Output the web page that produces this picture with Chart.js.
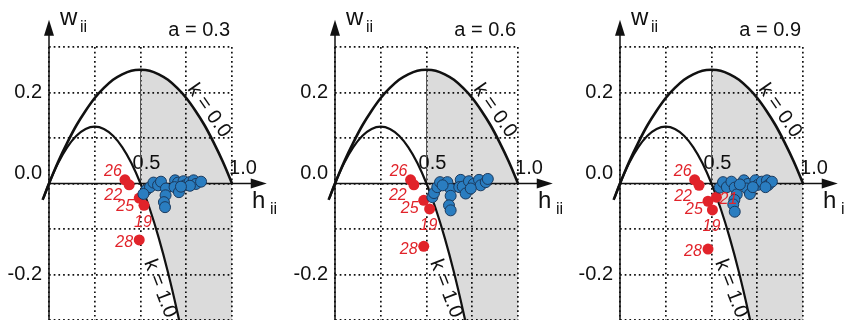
<!DOCTYPE html>
<html>
<head>
<meta charset="utf-8">
<script src="https://cdn.jsdelivr.net/npm/chart.js@4.4.1/dist/chart.umd.min.js"></script>
<style>
  body { margin: 0; background: #fff; }
  #wrap { position: relative; width: 845px; height: 320px; overflow: hidden; }
  .panel { position: absolute; top: 0; height: 320px; overflow: hidden; }
</style>
</head>
<body>
<div id="wrap">
  <div class="panel" style="left:0;width:286px"><canvas id="c0" width="286" height="345"></canvas></div>
  <div class="panel" style="left:286px;width:285px"><canvas id="c1" width="286" height="345"></canvas></div>
  <div class="panel" style="left:571px;width:274px"><canvas id="c2" width="286" height="345"></canvas></div>
</div>
<script>
// boundary curves (same in every panel)
const k0H = [-0.035, 0, 0.05, 0.1, 0.15, 0.2, 0.25, 0.3, 0.35, 0.4, 0.45, 0.5, 0.55, 0.6, 0.65, 0.7, 0.75, 0.8, 0.85, 0.9, 0.95, 1.0, 1.045];
const k0W = [-0.036, 0, 0.048, 0.09, 0.128, 0.16, 0.188, 0.21, 0.228, 0.24, 0.248, 0.25, 0.248, 0.24, 0.228, 0.21, 0.188, 0.16, 0.128, 0.09, 0.048, 0, -0.047];
const k1H = [-0.03, 0, 0.05, 0.1, 0.15, 0.2, 0.25, 0.3, 0.35, 0.4, 0.45, 0.5, 0.55, 0.6, 0.65, 0.7, 0.72];
const k1W = [-0.032, 0, 0.045, 0.08, 0.105, 0.12, 0.125, 0.12, 0.105, 0.08, 0.045, 0, -0.055, -0.12, -0.195, -0.28, -0.317];
const k1AtBottom = 0.713;

const titles = ['a = 0.3', 'a = 0.6', 'a = 0.9'];

// panel 1
const blue1H = [0.530, 0.552, 0.571, 0.596, 0.612, 0.516, 0.639, 0.637, 0.628, 0.634, 0.689, 0.705, 0.686, 0.710, 0.735, 0.743, 0.768, 0.790, 0.803, 0.831, 0.770, 0.721];
const blue1W = [-0.015, -0.008, 0.002, -0.004, 0.004, -0.023, -0.011, -0.026, -0.041, -0.052, 0.007, 0.002, -0.008, -0.019, 0.005, -0.004, 0.003, 0.007, -0.001, 0.004, -0.005, -0.007];
const red1Labels = ['26', '22', '25', '19', '28'];
const red1H = [0.415, 0.438, 0.493, 0.519, 0.493];
const red1W = [0.008, -0.003, -0.032, -0.048, -0.124];

// panel 2
const blue2H = [0.532, 0.541, 0.559, 0.574, 0.614, 0.632, 0.632, 0.623, 0.632, 0.687, 0.679, 0.698, 0.714, 0.732, 0.758, 0.787, 0.796, 0.824, 0.835, 0.742, 0.588];
const blue2W = [-0.030, -0.021, -0.008, 0.003, 0.003, -0.012, -0.027, -0.048, -0.059, 0.008, -0.008, -0.007, -0.022, 0.005, -0.001, 0.008, -0.004, 0.003, 0.010, -0.011, -0.004];
const red2Labels = ['26', '22', '25', '19', '28'];
const red2H = [0.413, 0.431, 0.485, 0.517, 0.485];
const red2W = [0.008, -0.003, -0.037, -0.056, -0.138];

// panel 3
const blue3H = [0.545, 0.563, 0.584, 0.609, 0.627, 0.638, 0.625, 0.619, 0.627, 0.677, 0.699, 0.693, 0.710, 0.740, 0.753, 0.775, 0.803, 0.811, 0.830, 0.795, 0.726, 0.655];
const blue3W = [-0.009, 0.003, -0.008, 0.004, -0.009, -0.024, -0.036, -0.046, -0.062, 0.007, -0.001, -0.011, -0.023, 0.007, -0.003, 0.004, 0.007, -0.003, 0.004, -0.008, -0.008, -0.002];
const red3Labels = ['26', '22', '25', '19', '21', '28'];
const red3H = [0.408, 0.432, 0.481, 0.505, 0.527, 0.481];
const red3W = [0.008, -0.004, -0.039, -0.058, -0.030, -0.144];

// tick labels
const xTickVals = [0.5];
const xTickText = ['0.5'];
const x2TickVals = [1.0];
const x2TickText = ['1.0'];
const yTickVals = [0.2, -0.2];
const yTickText = ['0.2', '-0.2'];
const y2TickVals = [0];
const y2TickText = ['0.0'];

const FONT = "'Liberation Sans', Arial, sans-serif";
const RED = '#e1232a';
const BLUE = '#2a7dc0';
// label offsets (px) from each red point
const redOffsets = { '26': [-12, -8], '22': [-16, 11], '25': [-14, 8], '19': [-1, 17], '28': [-15, 3], '21': [12, 2] };

function zip(hs, ws) {
  return hs.map((h, i) => ({ x: h, y: ws[i] }));
}

function greyShape() {
  const pts = [];
  k0H.forEach((h, i) => { if (h >= 0.5 && h <= 1) pts.push({ x: h, y: k0W[i] }); });
  pts.push({ x: 1, y: -0.3 });
  pts.push({ x: k1AtBottom, y: -0.3 });
  for (let i = k1H.length - 1; i >= 0; i--) {
    if (k1H[i] >= 0.5 && k1W[i] >= -0.3) pts.push({ x: k1H[i], y: k1W[i] });
  }
  pts.push(pts[0]);
  return pts;
}

function labelFor(v, vals, texts) {
  const i = vals.findIndex(t => Math.abs(t - v) < 1e-6);
  return i < 0 ? '' : texts[i];
}

function textPlugin(title, redH, redW, redLabels) {
  return {
    id: 'panelText',
    afterDatasetsDraw(chart) {
      const { ctx, scales: { x, y } } = chart;
      const x0 = x.getPixelForValue(0);
      const y0 = y.getPixelForValue(0);
      ctx.save();
      ctx.fillStyle = '#111';

      // arrowheads
      const ty = y.getPixelForValue(0.36);
      ctx.beginPath();
      ctx.moveTo(x0, ty); ctx.lineTo(x0 - 5, ty + 16); ctx.lineTo(x0 + 5, ty + 16); ctx.closePath();
      ctx.fill();
      const tx = x.getPixelForValue(1.19);
      ctx.beginPath();
      ctx.moveTo(tx, y0); ctx.lineTo(tx - 16, y0 - 5); ctx.lineTo(tx - 16, y0 + 5); ctx.closePath();
      ctx.fill();

      // axis titles
      ctx.textBaseline = 'alphabetic';
      ctx.textAlign = 'left';
      ctx.font = '24px ' + FONT;
      ctx.fillText('w', x0 + 11, 25);
      ctx.fillText('h', x0 + 203, y0 + 24);
      ctx.font = '16px ' + FONT;
      ctx.fillText('ii', x0 + 31, 32);
      ctx.fillText('ii', x0 + 221, y0 + 30);

      // panel title
      ctx.font = '20px ' + FONT;
      ctx.textAlign = 'right';
      ctx.fillText(title, x.getPixelForValue(1) - 2, 36);

      // curve labels
      ctx.font = '20px ' + FONT;
      ctx.textAlign = 'center';
      ctx.textBaseline = 'middle';
      [['k = 0.0', 0.874, 0.16, 55], ['k = 1.0', 0.607, -0.231, 69]].forEach(([t, h, w, deg]) => {
        ctx.save();
        ctx.translate(x.getPixelForValue(h), y.getPixelForValue(w));
        ctx.rotate(deg * Math.PI / 180);
        ctx.fillText(t, 0, 0);
        ctx.restore();
      });

      // red point labels
      ctx.font = 'italic 16px ' + FONT;
      ctx.fillStyle = RED;
      redLabels.forEach((lab, i) => {
        const off = redOffsets[lab];
        ctx.fillText(lab, x.getPixelForValue(redH[i]) + off[0], y.getPixelForValue(redW[i]) + off[1]);
      });
      ctx.restore();
    }
  };
}

const gridCommon = { color: '#111', lineWidth: 1.7, drawTicks: false };
const borderCommon = { display: false, dash: [1.7, 3] };
const tickFont = { family: FONT, size: 20 };

function makePanel(id, title, blueH, blueW, redH, redW, redLabels) {
  const lineBase = { pointRadius: 0, clip: false, fill: false };
  return new Chart(document.getElementById(id), {
    type: 'line',
    data: {
      datasets: [
        { data: zip(blueH, blueW), showLine: false, pointRadius: 5.5, pointBackgroundColor: BLUE, pointBorderColor: '#1b3a5e', pointBorderWidth: 1, order: 1 },
        { data: zip(redH, redW), showLine: false, pointRadius: 5.5, pointBackgroundColor: RED, pointBorderColor: RED, pointBorderWidth: 0, order: 2 },
        { ...lineBase, data: zip(k0H, k0W), borderColor: '#111', borderWidth: 2.6, cubicInterpolationMode: 'monotone', order: 4 },
        { ...lineBase, data: zip(k1H, k1W), borderColor: '#111', borderWidth: 2.2, cubicInterpolationMode: 'monotone', order: 5 },
        { ...lineBase, data: [{ x: 0, y: -0.32 }, { x: 0, y: 0.34 }], borderColor: '#111', borderWidth: 1.5, order: 6 },
        { ...lineBase, data: [{ x: 0, y: 0 }, { x: 1.16, y: 0 }], borderColor: '#111', borderWidth: 1.5, order: 6 },
        { ...lineBase, data: [{ x: 0.5, y: 0 }, { x: 0.5, y: 0.25 }], borderColor: '#555', borderWidth: 1, order: 7 },
        { data: greyShape(), pointRadius: 0, borderWidth: 0, fill: 'shape', backgroundColor: 'rgba(0,0,0,0.14)', tension: 0, order: 9 }
      ]
    },
    options: {
      responsive: false,
      animation: false,
      events: [],
      layout: { padding: { left: 49, right: 54, top: 47, bottom: 25 } },
      plugins: { legend: { display: false }, tooltip: { enabled: false } },
      scales: {
        x: {
          type: 'linear', min: 0, max: 1, position: { y: 0 },
          grid: gridCommon, border: borderCommon,
          ticks: { stepSize: 0.25, autoSkip: false, maxRotation: 0, padding: -32, labelOffset: 6, color: '#111', font: tickFont,
            callback: v => labelFor(v, xTickVals, xTickText) }
        },
        x2: {
          type: 'linear', axis: 'x', min: 0, max: 1, position: { y: 0 },
          grid: { display: false, drawTicks: false }, border: { display: false },
          ticks: { stepSize: 0.25, autoSkip: false, maxRotation: 0, padding: -27, labelOffset: 11, color: '#111', font: tickFont,
            callback: v => labelFor(v, x2TickVals, x2TickText) }
        },
        y: {
          // labels sit just left of the vertical axis
          type: 'linear', min: -0.3, max: 0.3, position: { x: -0.038 },
          grid: gridCommon, border: borderCommon,
          ticks: { stepSize: 0.1, autoSkip: false, color: '#111', font: tickFont,
            callback: v => labelFor(v, yTickVals, yTickText) }
        },
        y2: {
          type: 'linear', axis: 'y', min: -0.3, max: 0.3, position: { x: -0.038 },
          grid: { display: false, drawTicks: false }, border: { display: false },
          ticks: { stepSize: 0.1, autoSkip: false, labelOffset: -10, color: '#111', font: tickFont,
            callback: v => labelFor(v, y2TickVals, y2TickText) }
        }
      }
    },
    plugins: [textPlugin(title, redH, redW, redLabels)]
  });
}

makePanel('c0', titles[0], blue1H, blue1W, red1H, red1W, red1Labels);
makePanel('c1', titles[1], blue2H, blue2W, red2H, red2W, red2Labels);
makePanel('c2', titles[2], blue3H, blue3W, red3H, red3W, red3Labels);
</script>
</body>
</html>
